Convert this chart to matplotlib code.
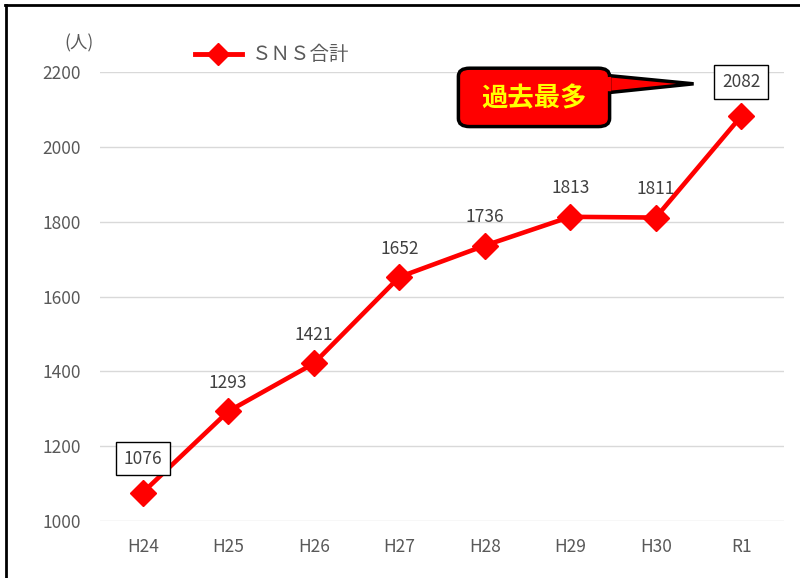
import matplotlib
matplotlib.use("Agg")
import matplotlib.pyplot as plt
from matplotlib.patches import FancyBboxPatch, Polygon
from matplotlib.lines import Line2D

plt.rcParams['font.family'] = ['Noto Sans CJK JP', 'DejaVu Sans']

years = ["H24", "H25", "H26", "H27", "H28", "H29", "H30", "R1"]
sns_total = [1076, 1293, 1421, 1652, 1736, 1813, 1811, 2082]
boxed = ["H24", "R1"]

grey = "#595959"
red = "#ff0000"

fig = plt.figure(figsize=(8, 5.78), dpi=100)
ax = fig.add_axes([0.125, 0.0986, 0.855, 0.7768])

x = list(range(len(years)))
ax.plot(x, sns_total, color=red, lw=3.3, marker="D", markersize=13,
        markeredgecolor=red, zorder=3)

for xi, name, v in zip(x, years, sns_total):
    if name in boxed:
        ax.annotate(str(v), (xi, v), xytext=(0, 18), textcoords="offset points",
                    ha="center", va="bottom", fontsize=12.5, color="#404040",
                    bbox=dict(boxstyle="square,pad=0.45", fc="white", ec="black", lw=1))
    else:
        ax.annotate(str(v), (xi, v), xytext=(0, 14), textcoords="offset points",
                    ha="center", va="bottom", fontsize=12.5, color="#404040")

ax.set_xlim(-0.5, len(years) - 0.5)
ax.set_ylim(1000, 2200)
ax.set_yticks(range(1000, 2201, 200))
ax.set_xticks(x)
ax.set_xticklabels(years)
ax.tick_params(length=0, labelsize=12.5, labelcolor=grey, pad=12)
ax.tick_params(axis="y", pad=14)
ax.grid(axis="y", color="#d9d9d9", lw=1)
ax.set_axisbelow(True)
for s in ax.spines.values():
    s.set_visible(False)

fig.text(0.081, 0.925, "(人)", fontsize=12.5, color=grey, ha="left", va="center")

handle = Line2D([], [], color=red, lw=3.5, marker="D", markersize=11)
fig.legend([handle], ["ＳＮＳ合計"], loc="center left", bbox_to_anchor=(0.222, 0.905),
           frameon=False, fontsize=14, labelcolor=grey, handlelength=2.4,
           handletextpad=0.5)

# callout bubble
tail = Polygon([[0.755, 0.870], [0.867, 0.855], [0.755, 0.839]], closed=True,
               transform=fig.transFigure, fc=red, ec="black", lw=2.5, zorder=5)
fig.add_artist(tail)
bubble = FancyBboxPatch((0.573, 0.781), 0.189, 0.101,
                        boxstyle="round,pad=0,rounding_size=0.014",
                        transform=fig.transFigure, fc=red, ec="black", lw=2.5, zorder=6)
fig.add_artist(bubble)
cover = Polygon([[0.750, 0.866], [0.764, 0.867], [0.764, 0.842], [0.750, 0.843]],
                closed=True, transform=fig.transFigure, fc=red, ec="none", zorder=7)
fig.add_artist(cover)
fig.text(0.667, 0.829, "過去最多", fontsize=19, fontweight="bold", color="#ffff00",
         ha="center", va="center", zorder=8)

# frame: top and left edges only
fig.add_artist(Line2D([0.006, 1.0], [0.991, 0.991], transform=fig.transFigure,
                      color="black", lw=2))
fig.add_artist(Line2D([0.007, 0.007], [0.0, 0.991], transform=fig.transFigure,
                      color="black", lw=2))

fig.savefig("out.png", dpi=100)
